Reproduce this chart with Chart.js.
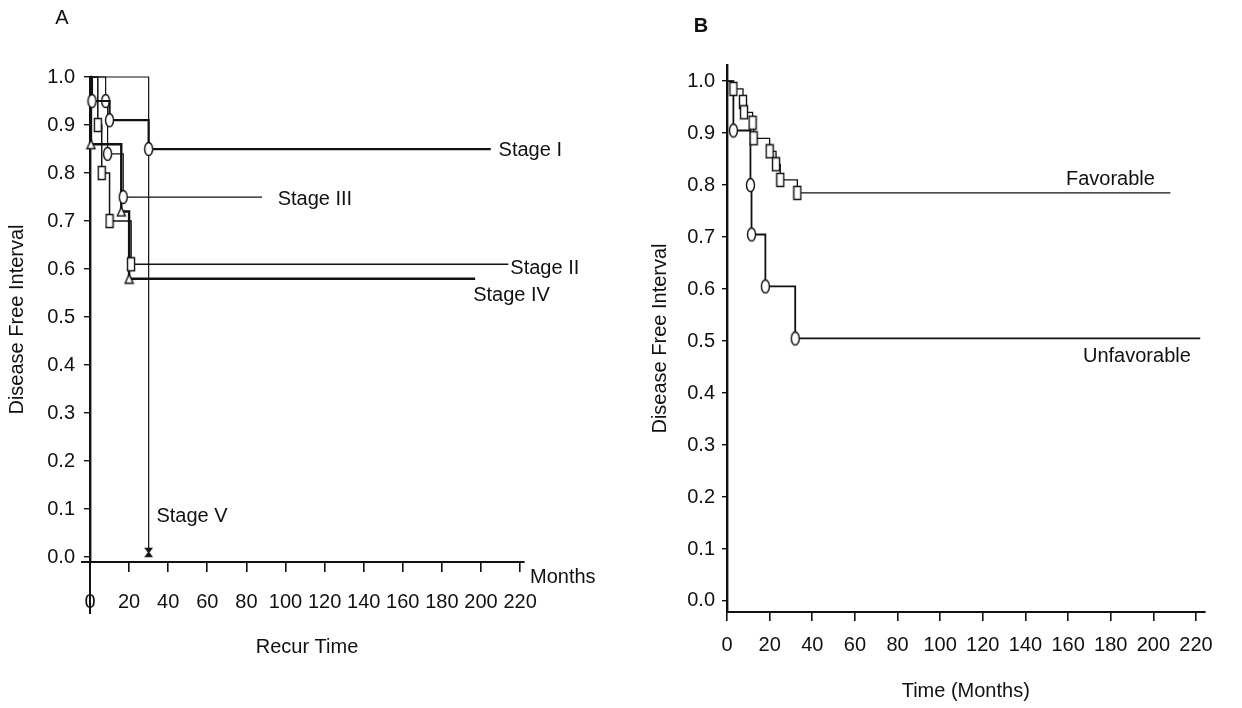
<!DOCTYPE html>
<html><head><meta charset="utf-8">
<script src="https://cdn.jsdelivr.net/npm/chart.js@4.4.1/dist/chart.umd.min.js"></script>
<style>
html,body{margin:0;padding:0;background:#fff;}
#wrap{position:relative;width:1242px;height:708px;overflow:hidden;background:#fff;}
#ca{position:absolute;left:0;top:0;}
#cb{position:absolute;left:620px;top:0;}
</style></head><body>
<div id="wrap"><canvas id="ca" width="620" height="708"></canvas><canvas id="cb" width="622" height="708"></canvas></div>
<script>
// ---------- Panel A data (months, disease free interval) ----------
const stage1Months = [0, 1, 10, 30, 205];
const stage1Values = [1.0, 0.95, 0.91, 0.85, 0.85];
const stage2Months = [0, 4, 6, 10, 21, 214];
const stage2Values = [1.0, 0.90, 0.80, 0.70, 0.61, 0.61];
const stage3Months = [0, 8, 9, 17, 88];
const stage3Values = [1.0, 0.95, 0.84, 0.75, 0.75];
const stage4Months = [0, 0.5, 16, 20, 197];
const stage4Values = [1.0, 0.86, 0.72, 0.58, 0.58];
const stage5Months = [0, 30];
const stage5Values = [1.0, 0.01];
const stageNames = ['Stage I', 'Stage II', 'Stage III', 'Stage IV', 'Stage V'];
const stageLabelMonths = [209, 215, 96, 196, 34];
const stageLabelValues = [0.848, 0.602, 0.744, 0.544, 0.085];
const xTickValues = [0, 20, 40, 60, 80, 100, 120, 140, 160, 180, 200, 220];
const yTickValues = [0, 0.1, 0.2, 0.3, 0.4, 0.5, 0.6, 0.7, 0.8, 0.9, 1.0];

// ---------- Panel B data ----------
const favMonths = [0, 3, 7.5, 8, 12, 12.5, 20, 23, 25, 33, 208];
const favValues = [1.0, 0.985, 0.96, 0.94, 0.92, 0.89, 0.865, 0.84, 0.81, 0.785, 0.785];
const unfavMonths = [0, 3, 11, 11.5, 18, 32, 222];
const unfavValues = [1.0, 0.905, 0.80, 0.705, 0.605, 0.505, 0.505];
const groupNames = ['Favorable', 'Unfavorable'];
const groupLabelMonths = [159, 167];
const groupLabelValues = [0.81, 0.471];

const INK = '#111';
const FONT = '"Liberation Sans", Arial, sans-serif';
Chart.defaults.font.family = FONT;
Chart.defaults.color = INK;

function makeMarker(kind, w, h) {
  const c = document.createElement('canvas');
  c.width = w + 3; c.height = h + 3;
  const g = c.getContext('2d');
  g.fillStyle = '#fff'; g.strokeStyle = INK; g.lineWidth = 1.4;
  const cx = c.width / 2, cy = c.height / 2;
  g.beginPath();
  if (kind === 'oval') g.ellipse(cx, cy, w / 2, h / 2, 0, 0, Math.PI * 2);
  else if (kind === 'rect') g.rect(cx - w / 2, cy - h / 2, w, h);
  else if (kind === 'tri') { g.moveTo(cx, cy - h / 2); g.lineTo(cx + w / 2, cy + h / 2); g.lineTo(cx - w / 2, cy + h / 2); g.closePath(); }
  else if (kind === 'hour') { g.fillStyle = INK; g.moveTo(cx - w / 2, cy - h / 2); g.lineTo(cx + w / 2, cy - h / 2); g.lineTo(cx - w / 2, cy + h / 2); g.lineTo(cx + w / 2, cy + h / 2); g.closePath(); }
  g.fill(); g.stroke();
  return c;
}
const ovalM = makeMarker('oval', 8, 13);
const rectM = makeMarker('rect', 7, 13);
const triM = makeMarker('tri', 8, 9);
const hourM = makeMarker('hour', 6, 8);

function pts(ms, vs) { return ms.map((m, i) => ({ x: m, y: vs[i] })); }
function series(ms, vs, marker, width) {
  return {
    data: pts(ms, vs), stepped: true, borderColor: INK, borderWidth: width,
    pointStyle: marker, clip: false,
    pointRadius: ctx => { const d = ctx.dataset.data, i = ctx.dataIndex; return (i > 0 && d[i].y !== d[i - 1].y) ? 6 : 0; },
    pointHoverRadius: 0, fill: false
  };
}

const textPlugin = {
  id: 'curveText',
  afterDraw(chart, args, o) {
    const { ctx, scales: { x, y }, chartArea } = chart;
    ctx.save();
    ctx.fillStyle = INK; ctx.strokeStyle = INK;
    ctx.font = '20px ' + FONT;
    ctx.textBaseline = 'middle'; ctx.textAlign = 'left';
    o.names.forEach((n, i) => ctx.fillText(n, x.getPixelForValue(o.months[i]), y.getPixelForValue(o.values[i])));
    if (o.unit) ctx.fillText(o.unit, chartArea.right + 6, chartArea.bottom + 15);
    ctx.textAlign = 'center';
    ctx.font = (o.panelBold ? 'bold ' : '') + '20px ' + FONT;
    ctx.fillText(o.panel, o.panelX, o.panelY);
    if (o.extendAxes) {
      ctx.lineWidth = 2;
      ctx.beginPath();
      ctx.moveTo(chartArea.left, chartArea.bottom); ctx.lineTo(chartArea.left, chartArea.bottom + 52);
      ctx.moveTo(chartArea.left - 9, chartArea.bottom); ctx.lineTo(chartArea.left, chartArea.bottom);
      ctx.stroke();
    }
    ctx.restore();
  }
};

function axisX(max, height, tickLen, pad, title, titleBottom, tv) {
  return {
    type: 'linear', min: 0, max: max,
    afterBuildTicks: s => { s.ticks = tv.map(v => ({ value: v })); },
    afterFit: s => { s.height = height; },
    grid: { drawOnChartArea: false, drawTicks: true, tickLength: tickLen, color: INK, lineWidth: 1.6 },
    border: { display: true, color: INK, width: 2 },
    ticks: { padding: pad, color: INK, font: { size: 20 }, maxRotation: 0, autoSkip: false },
    title: { display: true, text: title, color: INK, font: { size: 20 }, padding: { top: 0, bottom: titleBottom } }
  };
}
function axisY(min, max, width, tickLen, pad) {
  return {
    type: 'linear', min: min, max: max,
    afterBuildTicks: s => { s.ticks = yTickValues.map(v => ({ value: v })); },
    afterFit: s => { s.width = width; },
    grid: { drawOnChartArea: false, drawTicks: true, tickLength: tickLen, color: INK, lineWidth: 1.4 },
    border: { display: true, color: INK, width: 2.4 },
    ticks: { padding: pad, color: INK, font: { size: 20 }, callback: v => Number(v).toFixed(1), autoSkip: false },
    title: { display: true, text: 'Disease Free Interval', color: INK, font: { size: 20 }, padding: { top: 0, bottom: 0 } }
  };
}

new Chart(document.getElementById('ca'), {
  type: 'line',
  data: { datasets: [
    series(stage1Months, stage1Values, ovalM, 2.2),
    series(stage2Months, stage2Values, rectM, 1.5),
    series(stage3Months, stage3Values, ovalM, 1.2),
    series(stage4Months, stage4Values, triM, 2.4),
    series(stage5Months, stage5Values, hourM, 1.2)
  ] },
  options: {
    responsive: false, animation: false, devicePixelRatio: 1,
    layout: { padding: { top: 77, left: 5, right: 96, bottom: 0 } },
    plugins: {
      legend: { display: false }, tooltip: { enabled: false },
      curveText: { names: stageNames, months: stageLabelMonths, values: stageLabelValues, unit: 'Months', panel: 'A', panelX: 62, panelY: 18, panelBold: false, extendAxes: true }
    },
    scales: {
      x: axisX(222, 146, 10, 18, 'Recur Time', 49, xTickValues),
      y: axisY(-0.01, 1.0, 85, 6, 9)
    }
  },
  plugins: [textPlugin]
});

new Chart(document.getElementById('cb'), {
  type: 'line',
  data: { datasets: [
    series(favMonths, favValues, rectM, 1.3),
    series(unfavMonths, unfavValues, ovalM, 1.8)
  ] },
  options: {
    responsive: false, animation: false, devicePixelRatio: 1,
    layout: { padding: { top: 65, left: 28, right: 37.5, bottom: 0 } },
    plugins: {
      legend: { display: false }, tooltip: { enabled: false },
      curveText: { names: groupNames, months: groupLabelMonths, values: groupLabelValues, panel: 'B', panelX: 81, panelY: 26, panelBold: true, extendAxes: false }
    },
    scales: {
      x: axisX(224, 96, 9, 12, 'Time (Months)', 5, xTickValues),
      y: axisY(-0.0212, 1.031, 79, 5, 7)
    }
  },
  plugins: [textPlugin]
});
</script>
</body></html>
